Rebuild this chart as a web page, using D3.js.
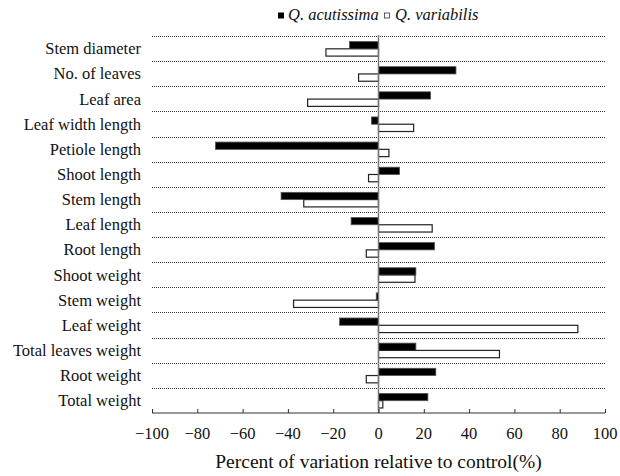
<!DOCTYPE html>
<html>
<head>
<meta charset="utf-8">
<script src="https://cdn.jsdelivr.net/npm/d3@7"></script>
<style>
  body { margin: 0; background: #fff; }
  svg { display: block; font-family: "Liberation Serif", "DejaVu Serif", serif; }
</style>
</head>
<body>
<svg id="chart" width="620" height="476"></svg>
<script>
// traits measured
var categories = ["Stem diameter", "No. of leaves", "Leaf area", "Leaf width length",
  "Petiole length", "Shoot length", "Stem length", "Leaf length", "Root length",
  "Shoot weight", "Stem weight", "Leaf weight", "Total leaves weight", "Root weight", "Total weight"];

// percent of variation relative to control
var acutissima = [-12.8, 34.2, 23.0, -3.1, -72.0, 9.3, -43.0, -12.1, 24.7, 16.5, -1.0, -17.2, 16.5, 25.3, 21.8];
var variabilis = [-23.2, -8.8, -31.3, 15.5, 4.6, -4.4, -33.0, 23.7, -5.4, 16.1, -37.5, 88.0, 53.4, -5.4, 1.9];

var xTicks = [-100, -80, -60, -40, -20, 0, 20, 40, 60, 80, 100];

var svg = d3.select("#chart");
var plotLeft = 152, plotRight = 605, plotTop = 36, plotBottom = 413;

var x = d3.scaleLinear().domain([-100, 100]).range([plotLeft, plotRight]);
var y = d3.scaleBand().domain(categories).range([plotTop, plotBottom]);
var bw = y.bandwidth();
var barH = bw * 0.29;

// dotted separators between categories
svg.append("g").selectAll("line")
  .data(categories)
  .join("line")
  .attr("x1", plotLeft).attr("x2", plotRight)
  .attr("y1", function(d){ return Math.round(y(d)) + 0.5; })
  .attr("y2", function(d){ return Math.round(y(d)) + 0.5; })
  .attr("stroke", "#333")
  .attr("stroke-width", 1)
  .attr("stroke-dasharray", "1,1");

// category labels
svg.append("g").selectAll("text")
  .data(categories)
  .join("text")
  .attr("x", 141)
  .attr("y", function(d){ return y(d) + bw / 2; })
  .attr("dy", "0.35em")
  .attr("text-anchor", "end")
  .attr("font-size", "16.5px")
  .attr("fill", "#111")
  .text(function(d){ return d; });

// Q. acutissima bars
svg.append("g").selectAll("rect")
  .data(acutissima)
  .join("rect")
  .attr("x", function(d){ return x(Math.min(0, d)); })
  .attr("width", function(d){ return Math.abs(x(d) - x(0)); })
  .attr("y", function(d, i){ return y(categories[i]) + bw * 0.22; })
  .attr("height", barH)
  .attr("fill", "#000")
  .attr("stroke", "#555")
  .attr("stroke-width", 0.8);

// Q. variabilis bars
svg.append("g").selectAll("rect")
  .data(variabilis)
  .join("rect")
  .attr("x", function(d){ return x(Math.min(0, d)); })
  .attr("width", function(d){ return Math.abs(x(d) - x(0)); })
  .attr("y", function(d, i){ return y(categories[i]) + bw * 0.22 + barH; })
  .attr("height", barH)
  .attr("fill", "#fff")
  .attr("stroke", "#222")
  .attr("stroke-width", 1.2);

// zero line
svg.append("line")
  .attr("x1", x(0)).attr("x2", x(0))
  .attr("y1", plotTop - 1).attr("y2", plotBottom)
  .attr("stroke", "#777")
  .attr("stroke-width", 1.5);

// x axis, ticks pointing inward
var xAxis = svg.append("g")
  .attr("transform", "translate(0," + plotBottom + ")")
  .call(d3.axisTop(x).tickValues(xTicks).tickSize(4).tickFormat(""));
xAxis.select(".domain").attr("stroke", "#333").attr("stroke-width", 1.2)
  .attr("d", "M" + plotLeft + ",0H" + plotRight);
xAxis.selectAll(".tick line").attr("stroke", "#333");

svg.append("g").selectAll("text")
  .data(xTicks)
  .join("text")
  .attr("x", function(d){ return x(d); })
  .attr("y", 433)
  .attr("dy", "0.35em")
  .attr("text-anchor", "middle")
  .attr("font-size", "16.5px")
  .attr("fill", "#111")
  .text(function(d){ return d < 0 ? "\u2212" + Math.abs(d) : d; });

svg.append("text")
  .attr("x", x(0))
  .attr("y", 461)
  .attr("dy", "0.35em")
  .attr("text-anchor", "middle")
  .attr("font-size", "19.5px")
  .attr("fill", "#111")
  .text("Percent of variation relative to control(%)");

// legend
var legend = svg.append("g");
legend.append("rect").attr("x", 278).attr("y", 12.5).attr("width", 6).attr("height", 6).attr("fill", "#000");
legend.append("text").attr("x", 288).attr("y", 20).attr("font-size", "16.5px").attr("font-style", "italic")
  .attr("fill", "#111").text("Q. acutissima");
legend.append("rect").attr("x", 384.5).attr("y", 13).attr("width", 5).attr("height", 5)
  .attr("fill", "#fff").attr("stroke", "#333").attr("stroke-width", 0.8);
legend.append("text").attr("x", 395).attr("y", 20).attr("font-size", "16.5px").attr("font-style", "italic")
  .attr("fill", "#111").text("Q. variabilis");
</script>
</body>
</html>
